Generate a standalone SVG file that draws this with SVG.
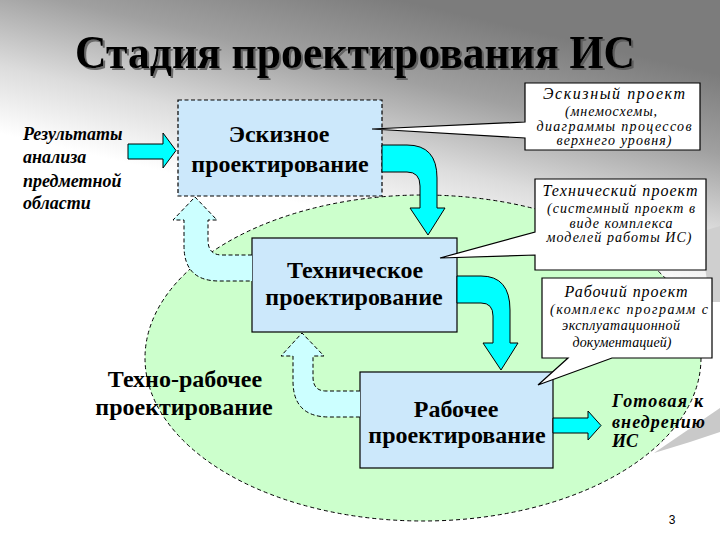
<svg xmlns="http://www.w3.org/2000/svg" width="720" height="540" viewBox="0 0 720 540">
<defs>
<linearGradient id="bg" gradientUnits="userSpaceOnUse" x1="400" y1="0" x2="350" y2="215">
<stop offset="0" stop-color="#7c7c7c"/>
<stop offset="0.35" stop-color="#a0a0a0"/>
<stop offset="0.7" stop-color="#dcdcdc"/>
<stop offset="1" stop-color="#ffffff"/>
</linearGradient>
<filter id="sh" x="-5%" y="-20%" width="110%" height="150%">
<feDropShadow dx="2" dy="2" stdDeviation="0.6" flood-color="#555555" flood-opacity="0.8"/>
</filter>
</defs>
<style>
.box{fill:#cce8fb;stroke:#000;stroke-width:1.2;}
.dash{stroke-dasharray:4 2.5;}
.node{font-family:'Liberation Serif',serif;font-weight:bold;font-size:24px;text-anchor:middle;fill:#000;}
.side{font-family:'Liberation Serif',serif;font-weight:bold;font-style:italic;font-size:18px;fill:#000;}
.arr{fill:#00ffff;stroke:#000;stroke-width:1;}
.back{fill:#ccffff;stroke:#000;stroke-width:1;stroke-dasharray:4 2.5;}
.call{fill:#fff;stroke:#000;stroke-width:1.2;}
.ct1{font-family:'Liberation Serif',serif;font-style:italic;font-size:16px;text-anchor:middle;fill:#000;}
.ct2{font-family:'Liberation Serif',serif;font-style:italic;font-size:14px;text-anchor:middle;fill:#000;}
</style>

<!-- background -->
<rect x="0" y="0" width="720" height="540" fill="url(#bg)"/>
<polygon points="700,232 720,226 720,302 710,302" fill="#cfcfcf"/>
<polygon points="654,453 720,408 720,432 690,442" fill="#c9c9c9"/>

<!-- ellipse region -->
<ellipse id="region" cx="423" cy="358" rx="278" ry="163" fill="#ccffcc" stroke="#000" stroke-width="1" stroke-dasharray="4 3"/>

<!-- title -->
<text x="355" y="68" font-family="'Liberation Serif',serif" font-size="46" font-weight="bold" text-anchor="middle" textLength="560" lengthAdjust="spacingAndGlyphs" filter="url(#sh)">Стадия проектирования ИС</text>

<!-- nodes -->
<g id="node-eskiz">
<rect class="box dash" x="178" y="100" width="204" height="96"/>
<text class="node" x="279" y="142">Эскизное</text>
<text class="node" x="280" y="172">проектирование</text>
</g>
<g id="node-tech">
<rect class="box" x="252" y="238" width="205" height="94"/>
<text class="node" x="355" y="278">Техническое</text>
<text class="node" x="354" y="305">проектирование</text>
</g>
<g id="node-rab">
<rect class="box" x="360" y="372" width="193" height="96"/>
<text class="node" x="456" y="417">Рабочее</text>
<text class="node" x="457" y="443">проектирование</text>
</g>
<g id="node-technorab">
<text class="node" x="185" y="387">Техно-рабочее</text>
<text class="node" x="184" y="415">проектирование</text>
</g>
<g id="node-input">
<text class="side" x="23" y="140">Результаты</text>
<text class="side" x="23" y="163">анализа</text>
<text class="side" x="23" y="187">предметной</text>
<text class="side" x="23" y="209">области</text>
</g>
<g id="node-output">
<text class="side" x="612" y="407" font-size="17" textLength="91" lengthAdjust="spacing">Готовая к</text>
<text class="side" x="612" y="428" font-size="17" textLength="93" lengthAdjust="spacing">внедрению</text>
<text class="side" x="612" y="447" font-size="17">ИС</text>
</g>

<!-- connectors -->
<g id="connectors">
<path class="arr" d="M128,144 L163,144 L163,133 L176,150.5 L163,168 L163,159 L128,159 Z"/>
<path class="arr" d="M382,145 L407,145 Q437,145 437,178 L437,208 L445,208 L428,235 L410,208 L420,208 L420,186 Q420,172 407,172 L382,172 Z"/>
<path class="arr" d="M457,276 L481,276 Q510,276 510,310 L510,343 L518,343 L501,370 L483,343 L493,343 L493,316 Q493,303 481,303 L457,303 Z"/>
<path class="arr" d="M553,418 L588,418 L588,411 L601,425.5 L588,440 L588,433 L553,433 Z"/>
<path class="back" d="M252,255 L222,255 Q208,255 208,240 L208,220 L217,220 L195,197 L173,220 L184,220 L184,246 Q184,281 219,281 L252,281"/>
<path class="back" d="M360,391 L326,391 Q313,391 313,377 L313,356 L324,356 L302,333 L281,356 L293,356 L293,381 Q293,417 329,417 L360,417"/>
</g>

<!-- callouts -->
<g id="callout-eskiz">
<path class="call" d="M525,83 H700 V150 H525 V138 L372,129 L525,122 Z"/>
<text class="ct1" x="614" y="99" textLength="142" lengthAdjust="spacing">Эскизный проект</text>
<text class="ct2" x="611" y="116" textLength="92" lengthAdjust="spacing">(мнемосхемы,</text>
<text class="ct2" x="614" y="131" textLength="155" lengthAdjust="spacing">диаграммы процессов</text>
<text class="ct2" x="614" y="145" textLength="115" lengthAdjust="spacing">верхнего уровня)</text>
</g>
<g id="callout-tech">
<path class="call" d="M535,179 H706 V270 H535 V255 L440,258 L535,232 Z"/>
<text class="ct1" x="620" y="196" textLength="155" lengthAdjust="spacing">Технический проект</text>
<text class="ct2" x="621" y="213" textLength="148" lengthAdjust="spacing">(системный проект в</text>
<text class="ct2" x="621" y="228" textLength="103" lengthAdjust="spacing">виде комплекса</text>
<text class="ct2" x="619" y="242" textLength="145" lengthAdjust="spacing">моделей работы ИС)</text>
</g>
<g id="callout-rab">
<path class="call" d="M542,278 H712 V358 H612 L538,385 L568,358 H542 Z"/>
<text class="ct1" x="626" y="297" textLength="123" lengthAdjust="spacing">Рабочий проект</text>
<text class="ct2" x="629" y="314" textLength="158" lengthAdjust="spacing">(комплекс программ с</text>
<text class="ct2" x="621" y="330" textLength="118" lengthAdjust="spacing">эксплуатационной</text>
<text class="ct2" x="622" y="347" textLength="99" lengthAdjust="spacing">документацией)</text>
</g>

<text x="672" y="524" font-family="'Liberation Sans',Arial,sans-serif" font-size="12" text-anchor="middle" fill="#000">3</text>
</svg>
